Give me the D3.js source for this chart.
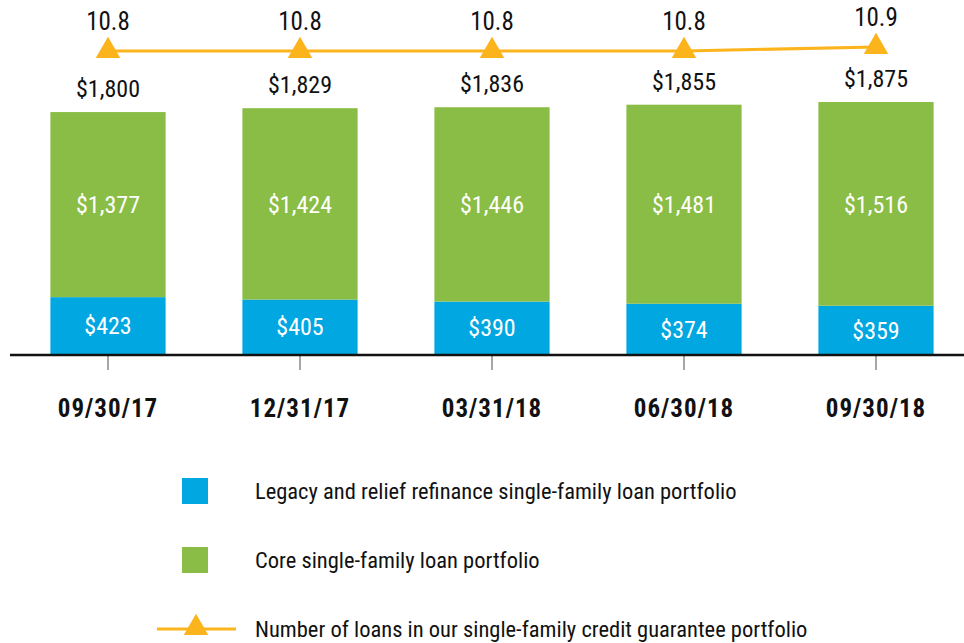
<!DOCTYPE html>
<html>
<head>
<meta charset="utf-8">
<script src="https://cdn.jsdelivr.net/npm/d3@7/dist/d3.min.js"></script>
<style>
  body { margin: 0; background: #fff; }
  text { font-family: "Liberation Sans Narrow", "Roboto Condensed", "DejaVu Sans Condensed", sans-serif; }
</style>
</head>
<body>
<svg id="chart" width="964" height="643"></svg>
<script>
const quarters = ['09/30/17', '12/31/17', '03/31/18', '06/30/18', '09/30/18'];
const legacy = [423, 405, 390, 374, 359];
const core = [1377, 1424, 1446, 1481, 1516];
const totals = [1800, 1829, 1836, 1855, 1875];
const loanCounts = [10.8, 10.8, 10.8, 10.8, 10.9];

const legendItems = [
    { label: 'Legacy and relief refinance single-family loan portfolio', type: 'rect', color: '#00a7e1' },
    { label: 'Core single-family loan portfolio', type: 'rect', color: '#8abd45' },
    { label: 'Number of loans in our single-family credit guarantee portfolio', type: 'line', color: '#fbb41c' }
];

const svg = d3.select('#chart');
const baseline = 354;

const x = d3.scaleBand()
    .domain(quarters)
    .range([12, 972])
    .paddingInner(0.4)
    .paddingOuter(0.2);

const y = d3.scaleLinear()
    .domain([0, 1875])
    .range([baseline, 102]);

const y2 = d3.scaleLinear()
    .domain([10, 11])
    .range([83, 43]);

const fmt = d3.format(',');

const rows = quarters.map((q, i) => ({ q, legacy: legacy[i], core: core[i], total: totals[i], count: loanCounts[i] }));

// stacked bars
const stack = d3.stack().keys(['legacy', 'core'])(rows);
const colors = { legacy: '#00a7e1', core: '#8abd45' };

stack.forEach(layer => {
    const g = svg.append('g').attr('class', 'layer-' + layer.key);
    g.selectAll('rect')
        .data(layer)
        .join('rect')
        .attr('x', d => x(d.data.q))
        .attr('width', x.bandwidth())
        .attr('y', d => y(d[1]))
        .attr('height', d => y(d[0]) - y(d[1]))
        .attr('fill', colors[layer.key]);

    g.selectAll('text')
        .data(layer)
        .join('text')
        .attr('x', d => x(d.data.q) + x.bandwidth() / 2)
        .attr('y', d => (y(d[0]) + y(d[1])) / 2)
        .attr('dy', '0.36em')
        .attr('text-anchor', 'middle')
        .attr('fill', '#fff')
        .style('font-size', '24px')
        .text(d => '$' + fmt(d.data[layer.key]));
});

// totals above the bars
svg.append('g')
    .selectAll('text')
    .data(rows)
    .join('text')
    .attr('x', d => x(d.q) + x.bandwidth() / 2)
    .attr('y', d => y(d.total) - 15)
    .attr('text-anchor', 'middle')
    .attr('fill', '#111')
    .style('font-size', '24px')
    .text(d => '$' + fmt(d.total));

// x axis
const axis = svg.append('g')
    .attr('transform', `translate(0,${baseline})`)
    .call(d3.axisBottom(x).tickSize(16).tickSizeOuter(0).tickPadding(29));
axis.select('.domain').remove();
axis.selectAll('.tick line').attr('stroke', '#888').attr('stroke-width', 1.5);
axis.selectAll('.tick text')
    .attr('fill', '#111')
    .style('font-size', '25px')
    .style('letter-spacing', '1px')
    .style('font-weight', 'bold')
    .style('font-family', '"Liberation Sans Narrow", "Roboto Condensed", "DejaVu Sans Condensed", sans-serif');

svg.append('line')
    .attr('x1', 10).attr('x2', 964)
    .attr('y1', baseline + 1).attr('y2', baseline + 1)
    .attr('stroke', '#111')
    .attr('stroke-width', 2.5);

// loan count line
const cx = d => x(d.q) + x.bandwidth() / 2;
svg.append('path')
    .datum(rows)
    .attr('fill', 'none')
    .attr('stroke', '#fbb41c')
    .attr('stroke-width', 3)
    .attr('d', d3.line().x(cx).y(d => y2(d.count)));

const tri = d3.symbol().type(d3.symbolTriangle).size(260);
svg.append('g')
    .selectAll('path')
    .data(rows)
    .join('path')
    .attr('transform', d => `translate(${cx(d)},${y2(d.count)})`)
    .attr('d', tri)
    .attr('fill', '#fbb41c');

svg.append('g')
    .selectAll('text')
    .data(rows)
    .join('text')
    .attr('x', cx)
    .attr('y', d => y2(d.count) - 21)
    .attr('text-anchor', 'middle')
    .attr('fill', '#111')
    .style('font-size', '25px')
    .text(d => d.count.toFixed(1));

// legend
const legend = svg.append('g').attr('transform', 'translate(0,491)');
const leg = legend.selectAll('g')
    .data(legendItems)
    .join('g')
    .attr('transform', (d, i) => `translate(0,${i * 69})`);

leg.filter(d => d.type === 'rect')
    .append('rect')
    .attr('x', 182).attr('y', -13)
    .attr('width', 26).attr('height', 26)
    .attr('fill', d => d.color);

const legLine = leg.filter(d => d.type === 'line');
legLine.append('line')
    .attr('x1', 157).attr('x2', 236)
    .attr('y1', 0).attr('y2', 0)
    .attr('stroke', d => d.color)
    .attr('stroke-width', 3);
legLine.append('path')
    .attr('transform', 'translate(196,-1)')
    .attr('d', tri)
    .attr('fill', d => d.color);

leg.append('text')
    .attr('x', 255)
    .attr('y', 0)
    .attr('dy', '0.36em')
    .attr('fill', '#111')
    .style('font-size', '22.5px')
    .text(d => d.label);
</script>
</body>
</html>
